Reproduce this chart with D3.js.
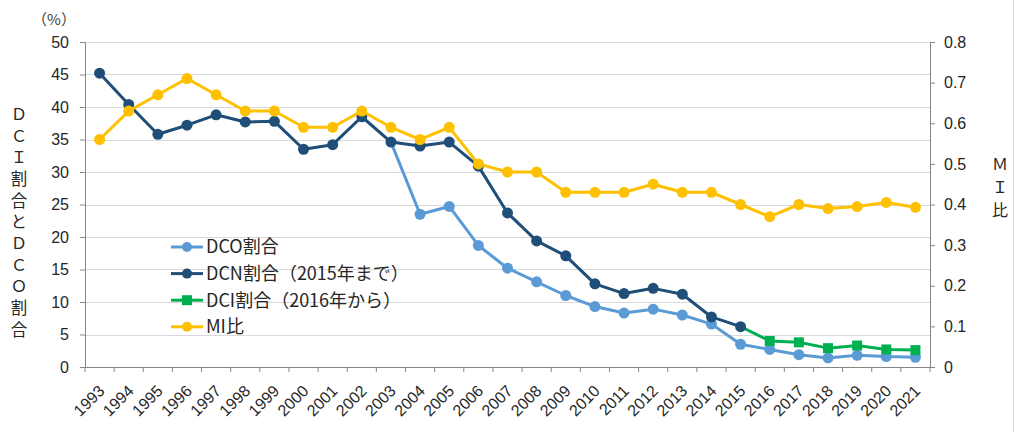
<!DOCTYPE html>
<html>
<head>
<meta charset="utf-8">
<script src="https://cdn.jsdelivr.net/npm/d3@7"></script>
<style>
  body { margin: 0; background: #fff; }
  svg { font-family: "Noto Sans CJK JP", "Noto Sans", sans-serif; }
</style>
</head>
<body>
<div id="chart"></div>
<script>
// categories
const years = d3.range(1993, 2022).map(String);

// DCO割合 (from 2003)
const dcoYears = years.slice(10);
const dcoValues = [34.6, 23.5, 24.7, 18.7, 15.2, 13.1, 11.0, 9.3, 8.3, 8.9, 8.0, 6.6, 3.5, 2.7, 1.9, 1.4, 1.8, 1.6, 1.5];

// DCN割合（2015年まで）
const dcnYears = years.slice(0, 23);
const dcnValues = [45.2, 40.4, 35.8, 37.2, 38.8, 37.7, 37.8, 33.5, 34.2, 38.5, 34.6, 34.0, 34.6,
  30.9, 23.7, 19.4, 17.1, 12.8, 11.3, 12.1, 11.2, 7.7, 6.2];

// DCI割合（2016年から）, the line starts at the 2015 DCN point
const dciYears = years.slice(22);
const dciValues = [6.2, 4.0, 3.8, 2.9, 3.3, 2.7, 2.6];

// MI比 (right axis)
const miValues = [0.56, 0.63, 0.67, 0.71, 0.67, 0.63, 0.63, 0.59, 0.59, 0.63, 0.59, 0.56, 0.59,
  0.50, 0.48, 0.48, 0.43, 0.43, 0.43, 0.45, 0.43, 0.43, 0.40, 0.37, 0.40, 0.39, 0.395, 0.405, 0.393];

const leftTicks = d3.range(0, 51, 5);
const rightTicks = d3.range(0, 0.81, 0.1);

const width = 1018, height = 432;
const margin = { top: 42, right: 88, bottom: 65, left: 85 };
const plotW = width - margin.left - margin.right;
const plotH = height - margin.top - margin.bottom;

const svg = d3.select("#chart").append("svg")
  .attr("width", width)
  .attr("height", height);

// chart frame edge on the right
svg.append("line")
  .attr("x1", 1013.5).attr("x2", 1013.5)
  .attr("y1", 0).attr("y2", height)
  .attr("stroke", "#d9d9d9");

const g = svg.append("g").attr("transform", `translate(${margin.left},${margin.top})`);

const x = d3.scaleBand().domain(years).range([0, plotW]);
const cx = d => x(d) + x.bandwidth() / 2;
const yL = d3.scaleLinear().domain([0, 50]).range([plotH, 0]);
const yR = d3.scaleLinear().domain([0, 0.8]).range([plotH, 0]);

// gridlines
g.append("g")
  .selectAll("line")
  .data(leftTicks.slice(1))
  .join("line")
  .attr("x1", 0).attr("x2", plotW)
  .attr("y1", d => Math.round(yL(d)) + 0.5)
  .attr("y2", d => Math.round(yL(d)) + 0.5)
  .attr("stroke", "#d9d9d9")
  .attr("stroke-width", 1);

const axisColor = "#868686";
const tickFont = "16px";

// left axis
const leftAxis = g.append("g")
  .call(d3.axisLeft(yL).tickValues(leftTicks).tickSize(5).tickPadding(11));
leftAxis.selectAll("text").attr("font-size", tickFont).attr("fill", "#262626");

// right axis
const rightAxis = g.append("g")
  .attr("transform", `translate(${plotW},0)`)
  .call(d3.axisRight(yR).tickValues(rightTicks).tickSize(5).tickPadding(9)
    .tickFormat(d => d === 0 ? "0" : d3.format(".1f")(d)));
rightAxis.selectAll("text").attr("font-size", tickFont).attr("fill", "#262626");

// bottom axis: line + ticks at category boundaries, labels drawn rotated
const bottomAxis = g.append("g")
  .attr("transform", `translate(0,${plotH})`)
  .call(d3.axisBottom(x).tickSize(0).tickFormat(""));
bottomAxis.append("g")
  .selectAll("line")
  .data(years.concat(["end"]))
  .join("line")
  .attr("x1", (d, i) => i * x.bandwidth())
  .attr("x2", (d, i) => i * x.bandwidth())
  .attr("y1", 0).attr("y2", 5)
  .attr("stroke", axisColor);
bottomAxis.append("g")
  .selectAll("text")
  .data(years)
  .join("text")
  .attr("transform", d => `translate(${cx(d) + 2},${21}) rotate(-45)`)
  .attr("text-anchor", "end")
  .attr("dy", "0.35em")
  .attr("font-size", "16px")
  .attr("fill", "#262626")
  .text(d => d);

[leftAxis, rightAxis, bottomAxis].forEach(a => {
  a.selectAll("path, line").attr("stroke", axisColor);
  a.select(".domain").attr("stroke-width", 1);
});

// series
function drawSeries(cats, vals, scale, color, shape, markFrom) {
  const pts = cats.map((c, i) => ({ c, v: vals[i] }));
  const line = d3.line().x(d => cx(d.c)).y(d => scale(d.v));
  g.append("path")
    .datum(pts)
    .attr("fill", "none")
    .attr("stroke", color)
    .attr("stroke-width", 3)
    .attr("stroke-linejoin", "round")
    .attr("d", line);
  const marks = pts.slice(markFrom || 0);
  if (shape === "square") {
    g.append("g").selectAll("rect").data(marks).join("rect")
      .attr("x", d => cx(d.c) - 5).attr("y", d => scale(d.v) - 5)
      .attr("width", 10).attr("height", 10)
      .attr("fill", color);
  } else {
    g.append("g").selectAll("circle").data(marks).join("circle")
      .attr("cx", d => cx(d.c)).attr("cy", d => scale(d.v))
      .attr("r", 5.5)
      .attr("fill", color);
  }
}

const colors = { dco: "#5B9BD5", dcn: "#1F4E79", dci: "#00B050", mi: "#FFC000" };

drawSeries(dcoYears, dcoValues, yL, colors.dco, "circle", 1);
drawSeries(dciYears, dciValues, yL, colors.dci, "square", 1);
drawSeries(dcnYears, dcnValues, yL, colors.dcn, "circle");
drawSeries(years, miValues, yR, colors.mi, "circle");

// legend
const legendItems = [
  { label: "DCO割合", color: colors.dco, shape: "circle" },
  { label: "DCN割合（2015年まで）", color: colors.dcn, shape: "circle" },
  { label: "DCI割合（2016年から）", color: colors.dci, shape: "square" },
  { label: "MI比", color: colors.mi, shape: "circle" }
];
const legend = svg.append("g").attr("transform", "translate(171,247)");
const rows = legend.selectAll("g").data(legendItems).join("g")
  .attr("transform", (d, i) => `translate(0,${i * 26.6})`);
rows.append("line")
  .attr("x1", 0).attr("x2", 32)
  .attr("stroke", d => d.color).attr("stroke-width", 3);
rows.filter(d => d.shape === "circle").append("circle")
  .attr("cx", 16).attr("r", 5).attr("fill", d => d.color);
rows.filter(d => d.shape === "square").append("rect")
  .attr("x", 11).attr("y", -5).attr("width", 10).attr("height", 10).attr("fill", d => d.color);
rows.append("text")
  .attr("x", 35).attr("dy", "0.36em")
  .attr("font-size", "18px")
  .attr("fill", "#262626")
  .text(d => d.label);

// unit label
svg.append("text")
  .attr("x", 54).attr("y", 25)
  .attr("text-anchor", "middle")
  .attr("font-size", "15px")
  .attr("fill", "#404040")
  .text("（%）");

// vertical axis titles (one text each, set vertically)
svg.append("text")
  .attr("x", 19).attr("y", 106)
  .attr("writing-mode", "vertical-rl")
  .style("text-orientation", "upright")
  .attr("letter-spacing", "5px")
  .attr("font-size", "16.5px")
  .attr("fill", "#262626")
  .text("ＤＣＩ割合とＤＣＯ割合");

svg.append("text")
  .attr("x", 1000).attr("y", 156)
  .attr("writing-mode", "vertical-rl")
  .style("text-orientation", "upright")
  .attr("letter-spacing", "7px")
  .attr("font-size", "16px")
  .attr("fill", "#262626")
  .text("ＭＩ比");
</script>
</body>
</html>
